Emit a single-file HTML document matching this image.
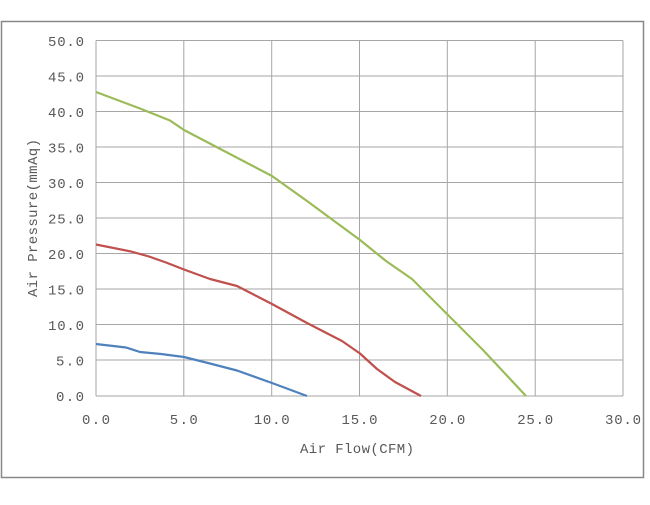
<!DOCTYPE html>
<html><head><meta charset="utf-8"><style>
html,body{margin:0;padding:0;background:#fff;}
svg text{font-family:"Liberation Mono","Noto Sans CJK SC",monospace;fill:#595959;font-size:14px;}
</style></head><body>
<svg width="650" height="500" xmlns="http://www.w3.org/2000/svg">
<rect x="1.5" y="21.5" width="642" height="456" fill="#fff" stroke="#888" stroke-width="1.5"/>
<g stroke="#a6a6a6" stroke-width="1" fill="none">
<line x1="96" y1="40.5" x2="623" y2="40.5"/>
<line x1="96" y1="76" x2="623" y2="76"/>
<line x1="96" y1="111.5" x2="623" y2="111.5"/>
<line x1="96" y1="147" x2="623" y2="147"/>
<line x1="96" y1="182.5" x2="623" y2="182.5"/>
<line x1="96" y1="218" x2="623" y2="218"/>
<line x1="96" y1="253.5" x2="623" y2="253.5"/>
<line x1="96" y1="289" x2="623" y2="289"/>
<line x1="96" y1="324.5" x2="623" y2="324.5"/>
<line x1="96" y1="360" x2="623" y2="360"/>
<line x1="96" y1="396" x2="623" y2="396"/>
<line x1="96" y1="40.5" x2="96" y2="396"/>
<line x1="183.8" y1="40.5" x2="183.8" y2="396"/>
<line x1="271.7" y1="40.5" x2="271.7" y2="396"/>
<line x1="359.5" y1="40.5" x2="359.5" y2="396"/>
<line x1="447.3" y1="40.5" x2="447.3" y2="396"/>
<line x1="535.2" y1="40.5" x2="535.2" y2="396"/>
<line x1="623" y1="40.5" x2="623" y2="396"/>
</g>
<g text-anchor="end" lengthAdjust="spacingAndGlyphs">
<text x="84" y="46" textLength="36">50.0</text><text x="84" y="81.5" textLength="36">45.0</text><text x="84" y="117" textLength="36">40.0</text>
<text x="84" y="152.5" textLength="36">35.0</text><text x="84" y="188" textLength="36">30.0</text><text x="84" y="223.5" textLength="36">25.0</text>
<text x="84" y="259" textLength="36">20.0</text><text x="84" y="294.5" textLength="36">15.0</text><text x="84" y="330" textLength="36">10.0</text>
<text x="84" y="365.5" textLength="28">5.0</text><text x="84" y="401" textLength="28">0.0</text>
</g>
<g text-anchor="middle">
<text x="96" y="424" textLength="28">0.0</text><text x="183.8" y="424" textLength="28">5.0</text><text x="271.7" y="424" textLength="36">10.0</text>
<text x="359.5" y="424" textLength="36">15.0</text><text x="447.3" y="424" textLength="36">20.0</text><text x="535.2" y="424" textLength="36">25.0</text>
<text x="623" y="424" textLength="36">30.0</text>
<text x="357" y="453" textLength="114">Air Flow(CFM)</text>
<text transform="translate(37,218) rotate(-90)" textLength="158">Air Pressure(mmAq)</text>
</g>
<g fill="none" stroke-width="2.2" stroke-linejoin="round">
<polyline stroke="#9bbb59" points="96,92 140,108.5 170,120.5 184,130 272,176 307,201 360,240 386,261 412,279 447,314 483,350 526,396"/>
<polyline stroke="#c0504d" points="96,244.5 131,251.5 149,256.5 166,262.5 184,269.5 210,279 237,286 272,304 307,323 342,341 360,353.5 377,369 395,382 421,396"/>
<polyline stroke="#4f81bd" points="96,344 126,347.5 140,352 161,354 184,357 210,363.5 237,370.5 272,383 307,396"/>
</g>
</svg>
</body></html>
